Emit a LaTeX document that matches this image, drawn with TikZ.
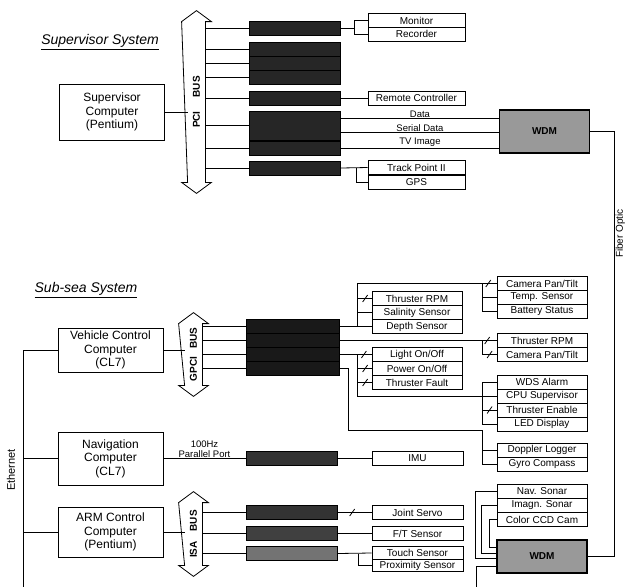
\documentclass[tikz,border=0pt]{standalone}
\usepackage{fontspec}
\setmainfont{Liberation Sans}
\usepackage{tikz}

\tikzset{cut/.pic={\draw (-2.5,3.5) -- (2.5,-3.5);}}

\begin{document}
\begin{tikzpicture}[x=1pt,y=-1pt,line width=0.8pt,
  comp/.style={draw,line width=1pt,align=center,minimum width=105,inner sep=0,font=\fontsize{12}{13.5}\selectfont},
  dkbox/.style={draw,line width=1pt,fill=black!85,minimum width=91,minimum height=14,inner sep=0},
  dev/.style={draw,fill=white,minimum width=90,minimum height=14,inner sep=0,font=\fontsize{10}{10.5}\selectfont},
  wdm/.style={draw,line width=1.2pt,fill=black!40,minimum width=90,minimum height=43,inner sep=0,font=\bfseries\fontsize{10}{11}\selectfont},
  busn/.style={minimum width=17,inner sep=0,font=\bfseries\fontsize{10}{11}\selectfont},
  ttl/.style={font=\itshape\fontsize{14}{16}\selectfont},
  lbl/.style={inner sep=1,font=\fontsize{9.5}{10}\selectfont}]
\useasboundingbox (0,0) rectangle (637,587);
% supervisor system
\node[ttl] (sst) at (100,42) {\underline{Supervisor System}};
\node[comp,minimum height=56] (sup) at (112,112) {Supervisor\\Computer\\(Pentium)};
\node[busn,minimum height=160] (pci) at (196.5,102) {\rotatebox{90}{PCI\hspace{14pt}BUS}};
\node[dkbox] (d1) at (295,28) {};
\node[dkbox] (d2) at (295,49) {};
\node[dkbox] (d3) at (295,63) {};
\node[dkbox] (d4) at (295,77) {};
\node[dkbox] (d5) at (295,98) {};
\node[dkbox,minimum height=29] (d6) at (295,125.5) {};
\node[dkbox] (d7) at (295,148) {};
\node[dkbox] (d8) at (295,168) {};
\node[dev,minimum width=97] (mon) at (416.5,20.5) {Monitor};
\node[dev,minimum width=97] (rec) at (416.5,34) {Recorder};
\node[dev,minimum width=97] (rc) at (416.5,98) {Remote Controller};
\node[dev,minimum width=97] (tp) at (416.5,167.5) {Track Point II};
\node[dev,minimum width=97] (gps) at (416.5,182) {GPS};
\node[wdm] (wdm1) at (544.5,131.5) {WDM};
\draw (sup.east) -- (sup.east -| pci.west);
\foreach \n in {d1,d2,d3,d4,d5,d6,d7,d8}
  \draw (\n.west) -- (\n.west -| pci.east);
\draw (d1.east) -- ++(13,0) |- (mon.west);
\draw (d1.east) ++(13,0) |- (rec.west);
\draw (d5.east) -- (rc.west);
\draw ([yshift=7pt]d6.east) coordinate (p1) -- node[lbl,above] {Data} (p1 -| wdm1.west);
\draw ([yshift=-7pt]d6.east) coordinate (p2) -- node[lbl,above] {Serial Data} (p2 -| wdm1.west);
\draw (d7.east) -- node[lbl,above] {TV Image} (d7.east -| wdm1.west);
\draw (d8.east) -- (tp.west);
\draw (d8.east) ++(15,0) |- (gps.west);
% sub-sea system
\node[ttl] (sub) at (86,290) {\underline{Sub-sea System}};
\node[comp,minimum height=44] (vcc) at (110.5,350) {Vehicle Control\\Computer\\(CL7)};
\node[busn,minimum height=61] (gpci) at (193.5,354.5) {\rotatebox{90}{GPCI\hspace{8pt}BUS}};
\node[dkbox,minimum width=93,fill=black!90] (v1) at (292.5,326.5) {};
\node[dkbox,minimum width=93,fill=black!90] (v2) at (292.5,340.5) {};
\node[dkbox,minimum width=93,fill=black!90] (v3) at (292.5,354.5) {};
\node[dkbox,minimum width=93,fill=black!90] (v4) at (292.5,368.5) {};
\node[dev] (thr1) at (417,298.5) {Thruster RPM};
\node[dev] (sal) at (417,312.5) {Salinity Sensor};
\node[dev] (dep) at (417,326.5) {Depth Sensor};
\node[dev] (lgt) at (417,354.5) {Light On/Off};
\node[dev] (pwr) at (417,368.5) {Power On/Off};
\node[dev] (tf) at (417,382.5) {Thruster Fault};
\node[dev] (cam1) at (542,283.5) {Camera Pan/Tilt};
\node[dev] (temp) at (542,297.5) {Temp. Sensor};
\node[dev] (bat) at (542,311.5) {Battery Status};
\node[dev] (thr2) at (542,340.5) {Thruster RPM};
\node[dev] (cam2) at (542,354.5) {Camera Pan/Tilt};
\node[dev] (wds) at (542,382) {WDS Alarm};
\node[dev] (cpu) at (542,396) {CPU Supervisor};
\node[dev] (te) at (542,410) {Thruster Enable};
\node[dev] (led) at (542,424) {LED Display};
\node[dev] (dop) at (542,450) {Doppler Logger};
\node[dev] (gyro) at (542,464) {Gyro Compass};
\draw (vcc.east) -- (vcc.east -| gpci.west);
\foreach \n in {v1,v2,v3,v4}
  \draw (\n.west) -- (\n.west -| gpci.east);
\draw (v1.east) -- (dep.west);
\draw (v1.east) ++(18,0) coordinate (b1) |- pic[pos=.97]{cut} (cam1.west);
\draw (b1) |- pic[pos=.77]{cut} (thr1.west);
\draw (b1) |- (sal.west);
\draw ([xshift=-14pt]cam1.west) |- (temp.west);
\draw ([xshift=-14pt]cam1.west) |- (bat.west);
\draw (v2.east) -- pic[pos=.94]{cut} (thr2.west);
\draw ([xshift=-14pt]thr2.west) |- pic[pos=.75]{cut} (cam2.west);
\draw (v3.east) -- pic[pos=.76]{cut} (lgt.west);
\draw (v3.east) ++(18,0) coordinate (b3) |- pic[pos=.77]{cut} (pwr.west);
\draw (b3) |- pic[pos=.77]{cut} (tf.west);
\draw (b3) |- (cpu.west);
\draw ([xshift=-14pt]cpu.west) |- (wds.west);
\draw ([xshift=-14pt]cpu.west) |- pic[pos=.75]{cut} (te.west);
\draw ([xshift=-14pt]cpu.west) |- (led.west);
\draw (v4.east) -- ++(9,0) |- ([xshift=-14pt,yshift=20pt]dop.west) |- (dop.west);
\draw ([xshift=-14pt]dop.west) |- (gyro.west);
% navigation
\node[comp,minimum height=53] (nav) at (110.5,458.5) {Navigation\\Computer\\(CL7)};
\node[dkbox,fill=black!80] (nd) at (291.5,458.5) {};
\node[dev,minimum width=91] (imu) at (417.5,458.5) {IMU};
\draw (nav.east) -- node[lbl,above,align=center] {100Hz\\Parallel Port} (nd.west);
\draw (nd.east) -- (imu.west);
% arm
\node[comp,minimum height=50] (arm) at (110.5,532) {ARM Control\\Computer\\(Pentium)};
\node[busn,minimum height=62] (isa) at (193.5,534) {\rotatebox{90}{ISA\hspace{10pt}BUS}};
\node[dkbox,fill=black!80] (a1) at (291.5,512.5) {};
\node[dkbox,fill=black!75] (a2) at (291.5,533.5) {};
\node[dkbox,fill=black!55] (a3) at (291.5,553.5) {};
\node[dev,minimum width=91] (js) at (417.5,512.5) {Joint Servo};
\node[dev,minimum width=91] (ft) at (417.5,533.5) {F/T Sensor};
\node[dev,minimum width=91,minimum height=12.5] (ts) at (417.5,553) {Touch Sensor};
\node[dev,minimum width=91,minimum height=12.5] (ps) at (417.5,565.5) {Proximity Sensor};
\draw (arm.east) -- (arm.east -| isa.west);
\foreach \n in {a1,a2,a3}
  \draw (\n.west) -- (\n.west -| isa.east);
\draw (a1.east) -- pic[pos=.43]{cut} (js.west);
\draw (a2.east) -- (ft.west);
\draw (a3.east) -- (ts.west);
\draw (a3.east) ++(21,0) |- (ps.west);
% sonar and wdm
\node[dev] (ns) at (542,491.5) {Nav. Sonar};
\node[dev] (ims) at (542,505.5) {Imagn. Sonar};
\node[dev] (cc) at (542,519.5) {Color CCD Cam};
\node[wdm,minimum height=33] (wdm2) at (542,556.5) {WDM};
\coordinate (wout) at (476,587);
\draw (ns.west) -- ++(-21,0) |- ([yshift=-1.5pt]wdm2.west);
\draw (ims.west) -- ++(-15,0) |- ([yshift=3.5pt]wdm2.west);
\draw (cc.west) -- ++(-7,0) |- ([yshift=9.5pt]wdm2.west);
\draw ([yshift=-9.5pt]wdm2.west) -| (wout);
\draw (wdm1.east) -- ++(24,0) |- node[pos=.12,rotate=90,anchor=north,lbl,font=\fontsize{10}{11}\selectfont] {Fiber Optic} (wdm2.east);
% ethernet
\coordinate (ethb) at (23,587);
\draw (vcc.west) -| (ethb);
\draw (nav.west) -- (nav.west -| ethb);
\draw (arm.west) -- (arm.west -| ethb);
\node[rotate=90,font=\fontsize{11}{12}\selectfont] (eth) at (11,470) {Ethernet};
% bus outlines
\foreach \b in {pci,gpci,isa}
  \draw ([xshift=-6pt]\b.north west) -- ([yshift=11pt]\b.north) -- ([xshift=6pt]\b.north east)
    -- (\b.north east) -- (\b.south east) -- ([xshift=6pt]\b.south east) -- ([yshift=-11pt]\b.south)
    -- ([xshift=-6pt]\b.south west) -- (\b.south west) -- cycle;
\end{tikzpicture}
\end{document}
